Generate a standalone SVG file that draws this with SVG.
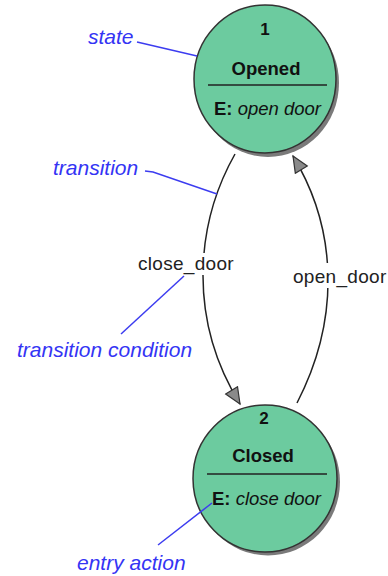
<svg xmlns="http://www.w3.org/2000/svg" width="388" height="576" viewBox="0 0 388 576">
<style>
.shadow{fill:#7a7a7a;stroke:none}
.state{fill:#6ccb9f;stroke:#333;stroke-width:1.5}
.num{font-family:"Liberation Sans",Arial,sans-serif;font-weight:bold;font-size:17px;fill:#111;text-anchor:middle}
.name{font-family:"Liberation Sans",Arial,sans-serif;font-weight:bold;font-size:18.5px;fill:#111;text-anchor:middle}
.entry{font-family:"Liberation Sans",Arial,sans-serif;font-size:18.5px;fill:#111}
.entry .k{font-weight:bold}
.entry .a{font-style:italic}
.div{stroke:#222;stroke-width:1.5}
.edge{fill:none;stroke:#222;stroke-width:1.5}
.elabel{font-family:"Liberation Sans",Arial,sans-serif;font-size:19px;fill:#222;letter-spacing:0.3px}
.lbg{fill:#fff}
.note{font-family:"Liberation Sans",Arial,sans-serif;font-style:italic;font-size:21px;fill:#3434f4}
.lead{fill:none;stroke:#3c3cf0;stroke-width:1.5}
</style>
<defs>
<marker id="arrow" markerUnits="userSpaceOnUse" markerWidth="20" markerHeight="18" refX="17" refY="8" orient="auto">
<path d="M1,1 L17,8 L1,15 z" fill="#8a8a8a" stroke="#333" stroke-width="1.2"/>
</marker>
</defs>
<rect width="388" height="576" fill="#fff"/>
<g id="node-opened">
<ellipse class="shadow" cx="268" cy="83" rx="71" ry="74"/>
<ellipse class="state" cx="265" cy="79" rx="71" ry="74"/>
<text class="num" x="265" y="35">1</text>
<text class="name" x="266" y="75">Opened</text>
<line class="div" x1="208" y1="85" x2="327" y2="85"/>
<text class="entry" x="214" y="115"><tspan class="k">E:</tspan> <tspan class="a">open door</tspan></text>
</g>
<g id="node-closed">
<ellipse class="shadow" cx="268" cy="482" rx="72" ry="73.5"/>
<ellipse class="state" cx="265" cy="478.5" rx="72" ry="73.5"/>
<text class="num" x="264" y="424">2</text>
<text class="name" x="263" y="462">Closed</text>
<line class="div" x1="207" y1="474" x2="327" y2="474"/>
<text class="entry" x="212" y="505"><tspan class="k">E:</tspan> <tspan class="a">close door</tspan></text>
</g>
<g id="connectors">
<path class="edge" d="M235,154 C195,225 188,320 240,404" marker-end="url(#arrow)"/>
<path class="edge" d="M297,403 C340,320 338,230 293,156" marker-end="url(#arrow)"/>
<rect class="lbg" x="136" y="253" width="99" height="22"/>
<text class="elabel" x="138" y="270">close_door</text>
<rect class="lbg" x="291" y="263" width="97" height="25"/>
<text class="elabel" x="293" y="283">open_door</text>
</g>
<g id="annotations">
<text class="note" x="88" y="44">state</text>
<line class="lead" x1="137" y1="42" x2="197" y2="56"/>
<text class="note" x="53" y="175">transition</text>
<polyline class="lead" points="145,171 153,172 217,194"/>
<text class="note" x="17" y="357">transition condition</text>
<line class="lead" x1="121" y1="334" x2="184" y2="276"/>
<text class="note" x="77" y="570">entry action</text>
<line class="lead" x1="158" y1="545" x2="212" y2="503"/>
</g>
</svg>
